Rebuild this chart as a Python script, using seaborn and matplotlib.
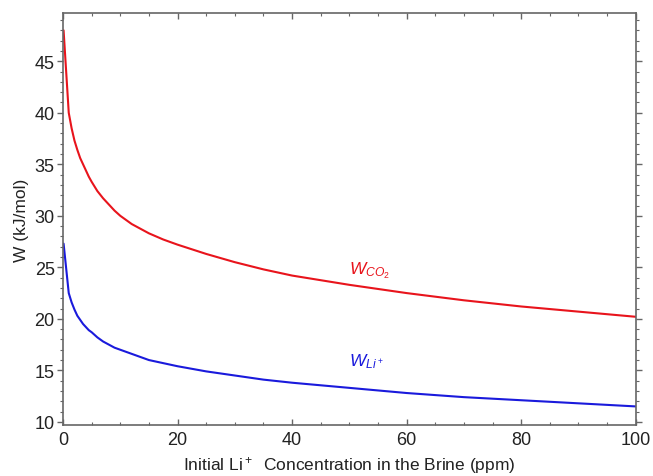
import matplotlib

matplotlib.use("Agg")

import matplotlib.pyplot as plt
import pandas as pd
import seaborn as sns
from matplotlib.ticker import MultipleLocator

sns.set_theme(style="white")
plt.rcParams["font.family"] = ["Liberation Sans", "DejaVu Sans"]
plt.rcParams["mathtext.fontset"] = "custom"
plt.rcParams["mathtext.rm"] = "Liberation Sans"
plt.rcParams["mathtext.it"] = "Liberation Sans:italic"

# initial Li+ concentration (ppm) and the two work curves (kJ/mol)
conc = [0.1, 1, 1.5, 2, 2.5, 3, 3.5, 4, 4.5, 5, 6, 7, 8, 9, 10, 11, 12, 13, 15,
        17.5, 20, 25, 30, 35, 40, 50, 60, 70, 80, 90, 100]
w_co2 = [48.0, 40.0, 38.5, 37.3, 36.4, 35.6, 35.0, 34.4, 33.8, 33.3, 32.4, 31.7,
         31.1, 30.5, 30.0, 29.6, 29.2, 28.9, 28.3, 27.7, 27.2, 26.3, 25.5, 24.8,
         24.2, 23.3, 22.5, 21.8, 21.2, 20.7, 20.2]
w_li = [27.3, 22.5, 21.6, 20.9, 20.3, 19.9, 19.5, 19.2, 18.9, 18.7, 18.2, 17.8,
        17.5, 17.2, 17.0, 16.8, 16.6, 16.4, 16.0, 15.7, 15.4, 14.9, 14.5, 14.1,
        13.8, 13.3, 12.8, 12.4, 12.1, 11.8, 11.5]

df = pd.DataFrame({"conc": conc * 2,
                   "W": w_co2 + w_li,
                   "series": ["CO2"] * len(conc) + ["Li"] * len(conc)})

fig = plt.figure(figsize=(6.53, 4.77), dpi=100)
ax = fig.add_axes([0.0965, 0.107, 0.877, 0.864])

sns.lineplot(data=df, x="conc", y="W", hue="series",
             palette={"CO2": "#e8141c", "Li": "#1a1adc"},
             linewidth=1.5, legend=False, ax=ax)

ax.text(50, 24.8, r"$W_{CO_2}$", color="#e8141c", fontsize=12.5, va="center")
ax.text(50, 15.9, r"$W_{Li^+}$", color="#1a1adc", fontsize=12.5, va="center")

ax.set_xlim(0, 100)
ax.set_ylim(9.7, 49.7)
ax.xaxis.set_major_locator(MultipleLocator(20))
ax.xaxis.set_minor_locator(MultipleLocator(5))
ax.yaxis.set_major_locator(MultipleLocator(5))
ax.yaxis.set_minor_locator(MultipleLocator(1))

ax.set_xlabel(r"Initial Li$^+$  Concentration in the Brine (ppm)", fontsize=12.5,
              color="#222222", labelpad=5)
ax.set_ylabel("W (kJ/mol)", fontsize=12.5, color="#222222", labelpad=4)

for s in ax.spines.values():
    s.set_color("#666666")
    s.set_linewidth(1.2)

ax.tick_params(axis="x", which="both", direction="in", top=True, bottom=True,
               colors="#666666", labelcolor="#222222", labelsize=13, pad=4)
ax.tick_params(axis="y", which="both", direction="out", left=True, right=True,
               colors="#666666", labelcolor="#222222", labelsize=13, pad=2)
ax.tick_params(which="major", length=4, width=1)
ax.tick_params(which="minor", length=2.5, width=0.8)

fig.savefig("out.png", dpi=100)
